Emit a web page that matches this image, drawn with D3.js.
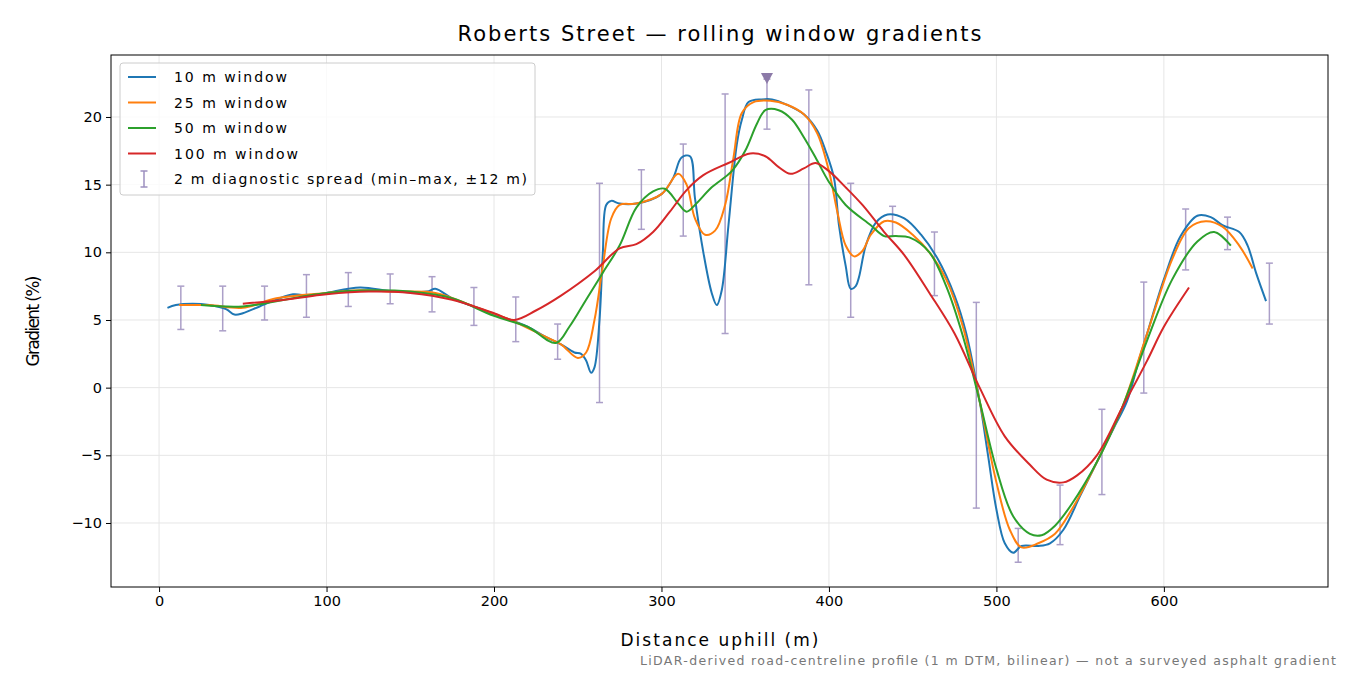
<!DOCTYPE html>
<html><head><meta charset="utf-8">
<script src="https://cdn.jsdelivr.net/npm/d3@7"></script>
<style>body{margin:0;background:#fff;font-family:"DejaVu Sans",sans-serif}</style>
</head><body><svg id="c" width="1350" height="675"></svg>
<script>
// rolling window series, [distance m, gradient %]
var win10 = [[5,5.9],[10,6.1],[20,6.2],[30,6.1],[40,5.8],[45,5.4],[50,5.5],[60,6.0],[70,6.5],[80,6.9],[90,6.8],[100,7.0],[120,7.4],[140,7.1],[160,7.1],[165,7.3],[175,6.6],[190,5.9],[200,5.4],[210,5.0],[220,4.5],[230,3.8],[240,3.2],[248,2.6],[252,2.5],[255,2.0],[258,1.1],[260,1.5],[263,5],[265,10],[267,13.5],[270,13.8],[275,13.6],[285,13.6],[300,14.3],[307,15.5],[312,17.0],[317,17.1],[320,14],[325,10],[330,7],[333,6.1],[336,7.2],[340,12],[345,18],[348,19.8],[352,21.1],[360,21.3],[366,21.3],[375,20.9],[385,20.2],[393,19.0],[398,17.5],[403,15.5],[406,12],[410,9],[413,7.3],[416,7.5],[418,8.2],[422,10.5],[428,12.2],[435,12.8],[445,12.5],[455,11.3],[465,9.5],[475,6.8],[482,4],[490,-1],[495,-5],[500,-9],[505,-11.5],[510,-12.2],[515,-11.7],[525,-11.7],[532,-11.5],[540,-10.5],[550,-8],[560,-5.5],[570,-3],[578,-1],[585,2],[590,4],[600,8],[610,11.2],[620,12.7],[628,12.6],[635,12],[645,11.5],[650,10.5],[655,8.5],[661,6.4]];
var win25 = [[12,6.1],[30,6.1],[50,5.9],[70,6.6],[100,7.0],[120,7.2],[140,7.1],[165,7.0],[190,5.9],[210,5.0],[230,3.8],[240,3.2],[250,2.2],[255,2.6],[260,5],[265,9],[270,12.5],[275,13.5],[285,13.6],[300,14.3],[310,15.8],[315,15],[320,12.5],[326,11.3],[332,11.6],[338,13.5],[343,17],[348,20.3],[355,21.1],[365,21.2],[375,20.9],[385,20.2],[393,18.8],[400,16],[405,13],[410,10.5],[415,9.7],[420,10.1],[425,11.3],[433,12.3],[440,12.2],[450,11.3],[460,10.0],[470,8.0],[480,4.5],[490,-1],[500,-7],[508,-10.5],[515,-11.8],[525,-11.5],[535,-10.8],[545,-9],[560,-5.5],[575,-1.5],[590,4],[605,9.5],[615,11.8],[625,12.3],[635,11.9],[645,10.5],[653,8.8]];
var win50 = [[25,6.1],[50,6.0],[75,6.5],[100,7.0],[125,7.2],[150,7.1],[175,6.6],[200,5.3],[220,4.5],[237,3.3],[245,4.5],[255,6.5],[265,8.5],[275,10.5],[285,13.3],[295,14.5],[302,14.7],[310,13.6],[315,13.0],[320,13.5],[330,14.8],[342,16.0],[350,17.5],[357,19.5],[362,20.5],[370,20.5],[378,19.8],[385,18.5],[392,17],[400,15.2],[410,13.5],[425,12],[433,11.2],[440,11.2],[448,11.1],[460,10],[470,7.5],[480,3.8],[490,-1],[500,-6],[510,-9.5],[520,-10.8],[527,-10.9],[535,-10.2],[545,-8.6],[560,-5.5],[575,-1.5],[590,3.5],[605,8.0],[620,10.8],[630,11.5],[640,10.5]];
var win100 = [[50,6.2],[75,6.5],[100,6.9],[125,7.1],[150,7.0],[175,6.5],[200,5.5],[212,5.0],[225,5.7],[240,6.8],[260,8.6],[275,10.3],[285,10.6],[295,11.5],[305,13],[315,14.6],[325,15.7],[340,16.6],[353,17.3],[362,17.1],[370,16.3],[377,15.8],[385,16.2],[392,16.6],[400,16],[410,14.8],[420,13.5],[433,11.5],[445,9.8],[460,7.0],[475,4.0],[490,0],[505,-3.6],[520,-5.7],[530,-6.8],[540,-7.0],[548,-6.5],[560,-5],[575,-1.5],[590,2],[600,4.5],[615,7.4]];
// 2 m diagnostic spread: [distance, min, max]
var spread = [[13,4.3,7.5],[38,4.2,7.5],[63,5.0,7.5],[88,5.2,8.35],[113,6.0,8.5],[138,6.2,8.4],[163,5.6,8.2],[188,4.6,7.4],[213,3.4,6.7],[238,2.1,4.7],[263,-1.1,15.1],[288,11.7,16.1],[313,11.2,18.0],[338,4.0,21.7],[363,19.1,22.8],[388,7.6,22.0],[413,5.2,15.1],[438,11.2,13.4],[463,6.8,11.5],[488,-8.9,6.3],[513,-12.9,-10.4],[538,-11.6,-7.2],[563,-7.9,-1.6],[588,-0.4,7.8],[613,8.7,13.2],[638,10.2,12.6],[663,4.7,9.2]];
var peak = [363, 22.8];
var xTicks = [0,100,200,300,400,500,600];
var yTicks = [-10,-5,0,5,10,15,20];

var svg = d3.select('#c');
var L = 111, R = 1328, T = 55, B = 587;
var x = d3.scaleLinear().domain([-28.7, 698]).range([L, R]);
var y = d3.scaleLinear().domain([-14.73, 24.58]).range([B, T]);

// grid
svg.append('g').selectAll('line').data(xTicks).join('line')
    .attr('x1', d => x(d)).attr('x2', d => x(d)).attr('y1', T).attr('y2', B)
    .attr('stroke', '#e6e6e6').attr('stroke-width', 1);
svg.append('g').selectAll('line').data(yTicks).join('line')
    .attr('y1', d => y(d)).attr('y2', d => y(d)).attr('x1', L).attr('x2', R)
    .attr('stroke', '#e6e6e6').attr('stroke-width', 1);

var fmt = d => d < 0 ? '\u2212' + Math.abs(d) : String(d);
var gx = svg.append('g').attr('transform', 'translate(0,' + B + ')')
    .call(d3.axisBottom(x).tickValues(xTicks).tickSize(5).tickPadding(4).tickFormat(fmt));
var gy = svg.append('g').attr('transform', 'translate(' + L + ',0)')
    .call(d3.axisLeft(y).tickValues(yTicks).tickSize(5).tickPadding(4).tickFormat(fmt));
[gx, gy].forEach(function(g) {
    g.select('.domain').remove();
    g.selectAll('text').attr('font-size', 14.5).attr('fill', '#000').attr('font-family', 'DejaVu Sans');
});

// error bars
var eb = svg.append('g').attr('stroke', '#9d8fbf').attr('stroke-width', 1.5).attr('opacity', 0.85);
spread.forEach(function(s) {
    eb.append('line').attr('x1', x(s[0])).attr('x2', x(s[0])).attr('y1', y(s[1])).attr('y2', y(s[2]));
    [s[1], s[2]].forEach(function(v) {
        eb.append('line').attr('x1', x(s[0]) - 3.5).attr('x2', x(s[0]) + 3.5).attr('y1', y(v)).attr('y2', y(v));
    });
});

var line = d3.line().x(d => x(d[0])).y(d => y(d[1])).curve(d3.curveCatmullRom.alpha(0.5));
var series = [
    {data: win10, color: '#1f77b4', label: '10 m window', w: 113},
    {data: win25, color: '#ff7f0e', label: '25 m window', w: 113},
    {data: win50, color: '#2ca02c', label: '50 m window', w: 113},
    {data: win100, color: '#d62728', label: '100 m window', w: 124}
];
series.forEach(function(s) {
    svg.append('path').attr('d', line(s.data)).attr('fill', 'none')
        .attr('stroke', s.color).attr('stroke-width', 2);
});

// peak marker
svg.append('path').attr('d', 'M-6,-6L6,-6L0,5Z')
    .attr('transform', 'translate(' + x(peak[0]) + ',' + y(peak[1]) + ')')
    .attr('fill', '#8c7aa8');

svg.append('rect').attr('x', L).attr('y', T).attr('width', R - L).attr('height', B - T)
    .attr('fill', 'none').attr('stroke', '#000').attr('stroke-width', 1);

// legend
var lg = svg.append('g').attr('transform', 'translate(120,63)');
lg.append('rect').attr('width', 415).attr('height', 132).attr('rx', 3)
    .attr('fill', '#fff').attr('fill-opacity', 0.8).attr('stroke', '#ccc');
series.forEach(function(s, i) {
    var yy = 14 + i * 25.5;
    lg.append('line').attr('x1', 8).attr('x2', 36).attr('y1', yy).attr('y2', yy)
        .attr('stroke', s.color).attr('stroke-width', 2);
    lg.append('text').attr('x', 54).attr('y', yy + 5).attr('font-size', 14)
        .attr('textLength', s.w).attr('lengthAdjust', 'spacing').text(s.label);
});
var ly = 14 + 4 * 25.5;
lg.append('line').attr('x1', 24).attr('x2', 24).attr('y1', ly - 8).attr('y2', ly + 8)
    .attr('stroke', '#9d8fbf').attr('stroke-width', 1.5);
lg.append('line').attr('x1', 20.5).attr('x2', 27.5).attr('y1', ly - 8).attr('y2', ly - 8).attr('stroke', '#9d8fbf').attr('stroke-width', 1.5);
lg.append('line').attr('x1', 20.5).attr('x2', 27.5).attr('y1', ly + 8).attr('y2', ly + 8).attr('stroke', '#9d8fbf').attr('stroke-width', 1.5);
lg.append('text').attr('x', 54).attr('y', ly + 5).attr('font-size', 14)
    .attr('textLength', 353).attr('lengthAdjust', 'spacing')
    .text('2 m diagnostic spread (min\u2013max, \u00b112 m)');

// titles
svg.append('text').attr('x', (L + R) / 2).attr('y', 41).attr('text-anchor', 'middle')
    .attr('font-size', 21).attr('textLength', 524).attr('lengthAdjust', 'spacing')
    .text('Roberts Street \u2014 rolling window gradients');
svg.append('text').attr('x', (L + R) / 2).attr('y', 646).attr('text-anchor', 'middle')
    .attr('font-size', 17).attr('textLength', 198).attr('lengthAdjust', 'spacing')
    .text('Distance uphill (m)');
svg.append('text').attr('transform', 'translate(39,' + (T + B) / 2 + ') rotate(-90)')
    .attr('text-anchor', 'middle').attr('font-size', 17)
    .attr('textLength', 91).attr('lengthAdjust', 'spacing').text('Gradient (%)');
svg.append('text').attr('x', 1336).attr('y', 665).attr('text-anchor', 'end')
    .attr('font-size', 12.5).attr('fill', '#777')
    .attr('textLength', 696).attr('lengthAdjust', 'spacing')
    .text('LiDAR-derived road-centreline profile (1 m DTM, bilinear) \u2014 not a surveyed asphalt gradient');
</script></body></html>
